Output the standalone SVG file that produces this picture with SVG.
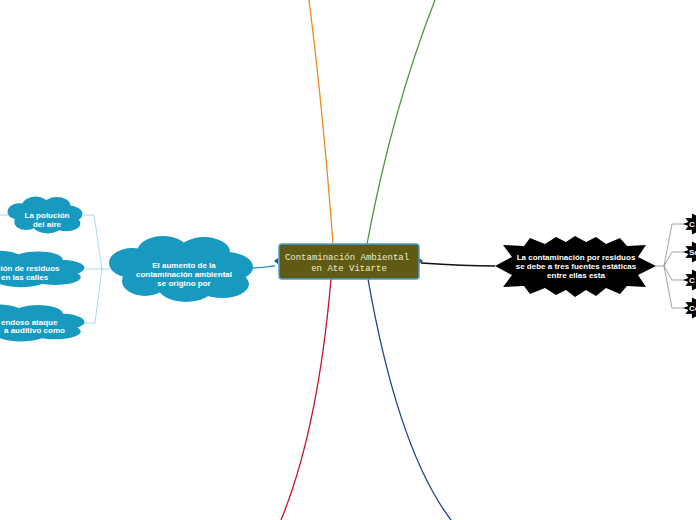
<svg xmlns="http://www.w3.org/2000/svg" xmlns:xlink="http://www.w3.org/1999/xlink" width="696" height="520" viewBox="0 0 696 520">
<style>
.cloud{fill:#1799c0}
.burst{fill:#000}
.t{font-family:"Liberation Sans",Arial,sans-serif;font-weight:bold;font-size:8px;fill:#fff}
.c{text-anchor:middle}
.mono{font-family:"Liberation Mono","Courier New",monospace;font-size:9px;fill:#f2ecc8;text-anchor:middle}
.con{fill:none;stroke-width:1.3}
.fork{fill:none;stroke:#8a8a8a;stroke-width:0.8}
.lb{fill:none;stroke:#92cdf0;stroke-width:0.8}
</style>
<defs>
<g id="cloudShape">
<ellipse cx="-20" cy="-17" rx="26" ry="16"/>
<ellipse cx="21" cy="-17" rx="26" ry="15"/>
<ellipse cx="-51" cy="-6" rx="23" ry="15"/>
<ellipse cx="43" cy="-2" rx="27" ry="15"/>
<ellipse cx="-38" cy="12" rx="23" ry="15"/>
<ellipse cx="3" cy="18" rx="28" ry="15"/>
<ellipse cx="39" cy="15" rx="27" ry="14"/>
<ellipse cx="0" cy="0" rx="55" ry="22"/>
</g>
<polygon id="smallBurst" points="18,0 12.6,2.1 15.6,6 9.2,5.7 9,10.4 3.4,7.7 0,12 -3.4,7.7 -9,10.4 -9.2,5.7 -15.6,6 -12.6,2.1 -18,0 -12.6,-2.1 -15.6,-6 -9.2,-5.7 -9,-10.4 -3.4,-7.7 0,-12 3.4,-7.7 9,-10.4 9.2,-5.7 15.6,-6 12.6,-2.1"/>
</defs>

<g id="connectors">
<path class="con" stroke="#f0891e" d="M333,244 Q323,110 309,0"/>
<path class="con" stroke="#4a9a3a" d="M367,244 Q392,110 435,0"/>
<path class="con" stroke="#c8102e" d="M331,279 Q318,430 281,520"/>
<path class="con" stroke="#1a3f8f" d="M368,279 Q398,450 451,520"/>
<path class="con" stroke="#111" d="M421,263 C450,265 470,266 495,266"/>
<path class="con" stroke="#2a96d6" stroke-width="1.5" d="M275,266 C265,267 260,268 252,268"/>
<path class="lb" d="M110,269 L86,269 M102,269 L94,215 L84,215 M102,269 L95,323 L84,323 M8,215 L0,215"/>
<path class="fork" d="M656,266 L664,266 M664,266 L672,224 L684,224 M664,266 L672,252 L684,252 M664,266 L672,280 L684,280 M664,266 L672,308 L684,308"/>
<polygon fill="#1e4f8a" points="274,261 278,258 278,264"/>
<polygon fill="#1e4f8a" points="423,261 419,258 419,264"/>
</g>

<g id="central">
<rect x="279" y="244" width="140" height="35" rx="3" fill="#5f5a14" stroke="#4a9fd0" stroke-width="1.5"/>
<text class="mono" x="347" y="260">Contaminación Ambiental</text>
<text class="mono" x="349" y="271">en Ate Vitarte</text>
</g>

<g id="cloudMain">
<use xlink:href="#cloudShape" class="cloud" transform="translate(183,269)"/>
<text class="t c" x="184" y="268">El aumento de la</text>
<text class="t c" x="184" y="277">contaminación ambiental</text>
<text class="t c" x="184" y="286">se origino por</text>
</g>

<g id="cloudAire">
<use xlink:href="#cloudShape" class="cloud" transform="translate(46,215) scale(0.52,0.56)"/>
<text class="t c" x="47" y="218">La polución</text>
<text class="t c" x="47" y="227">del aire</text>
</g>

<g id="cloudResiduos">
<use xlink:href="#cloudShape" class="cloud" transform="translate(18,269) scale(0.95,0.55)"/>
<text class="t" x="-4" y="271">ción de residuos</text>
<text class="t" x="1" y="280">en las calles</text>
</g>

<g id="cloudAtaque">
<use xlink:href="#cloudShape" class="cloud" transform="translate(18,323) scale(0.95,0.56)"/>
<text class="t" x="1" y="324.5">endoso ataque</text>
<text class="t" x="4" y="333">a auditivo como</text>
</g>

<g id="burstMain">
<polygon class="burst" points="495,266 512,257 503,245 524,246 530,238 545,244 556,237 566,242 575,236 586,242 596,237 606,244 620,238 627,246 646,245 638,257 656,266 638,275 646,287 627,286 620,294 606,288 596,296 586,290 575,297 566,290 556,295 545,288 530,294 524,286 503,287 512,275"/>
<text class="t c" x="576" y="260">La contaminación por residuos</text>
<text class="t c" x="576" y="269">se debe a tres fuentes estáticas</text>
<text class="t c" x="576" y="278">entre ellas esta</text>
</g>

<g id="burst1"><use xlink:href="#smallBurst" transform="translate(701,224)"/><text class="t" x="689" y="227">C</text></g>
<g id="burst2"><use xlink:href="#smallBurst" transform="translate(701,252)"/><text class="t" x="689" y="255">Se</text></g>
<g id="burst3"><use xlink:href="#smallBurst" transform="translate(701,280)"/><text class="t" x="689" y="283">C</text></g>
<g id="burst4"><use xlink:href="#smallBurst" transform="translate(701,308)"/><text class="t" x="689" y="311">Co</text></g>
</svg>
